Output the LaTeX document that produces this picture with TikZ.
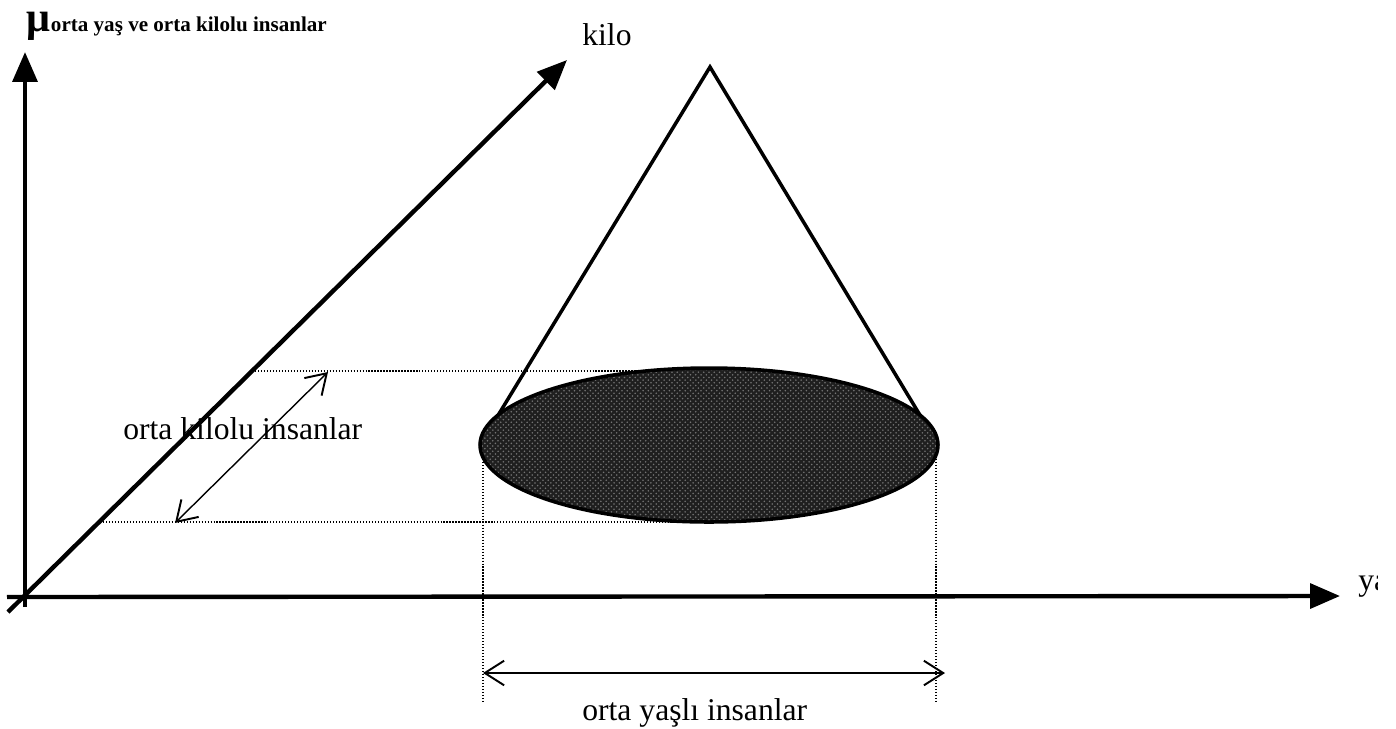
\documentclass[tikz,border=0pt]{standalone}
\usepackage{fontspec}
\setmainfont{Liberation Serif}
\usetikzlibrary{arrows.meta,positioning,patterns}

\tikzset{
  axis/.style={line width=2.5pt,-{Triangle[length=17pt,width=14pt]}},
  coneline/.style={line width=2pt},
  guide/.style={densely dotted,line width=0.7pt},
  span/.style={line width=0.8pt,{Straight Barb[length=11pt,width=14pt,line width=1.1pt]}-{Straight Barb[length=11pt,width=14pt,line width=1.1pt]}},
  lbl/.style={font=\fontsize{18}{20}\selectfont,inner sep=0pt,anchor=base west},
}

\begin{document}
\begin{tikzpicture}[x=0.02cm,y=-0.02cm]
			\useasboundingbox (0,0) rectangle (1396,728);

			% ---------------- Axes ----------------
			\coordinate (Ystart) at (25,607);
			\coordinate (Ytip) at (25,52);
			\coordinate (Xstart) at (7,597);
			\coordinate (Xtip) at (1340,596);
			\coordinate (Zstart) at (8,612);
			\coordinate (Ztip) at (567,60);

			\draw[axis] (Ystart) -- (Ytip);
			\draw[axis] (Xstart) -- (Xtip);
			\draw[axis] (Zstart) -- (Ztip);

			% Axis labels
			\node[font=\bfseries\fontsize{24}{24}\selectfont,inner sep=0pt,text height=12pt,text depth=5pt,anchor=base west] (mu) at (26,31) {μ};
			\node[font=\bfseries\fontsize{12}{14}\selectfont,inner sep=0pt,anchor=base west] (mulbl) at (mu.base east) {orta yaş ve orta kilolu insanlar};
			\node[lbl] (kilo) at (582,45) {kilo};
			\begin{scope}
				\clip (0,0) rectangle (1377,728);
				\node[lbl] (yas) at (1358,590) {yaş};
			\end{scope}

			% ---------------- Cone ----------------
			\coordinate (apex) at (710,67);
			\coordinate (eL) at (480,445);
			\coordinate (eR) at (938,445);
			\draw[coneline] (eL) -- (apex) -- (eR);

			% Projection lines
			\coordinate (kTop) at (252,371);
			\coordinate (kBot) at (100,522);
			\coordinate (eTop) at (709,371);
			\coordinate (eBot) at (709,522);
			\draw[guide] (kTop) -- (eTop);
			\draw[guide] (kBot) -- (eBot);
			\coordinate (gL) at (483,447);
			\coordinate (gLb) at (483,702);
			\coordinate (gR) at (936,447);
			\coordinate (gRb) at (936,702);
			\draw[guide] (gL) -- (gLb);
			\draw[guide] (gR) -- (gRb);

			% Base of the cone (shaded)
			\fill[black!88] (709,445) ellipse [x radius=229,y radius=77];
			\fill[pattern=crosshatch dots,pattern color=black!55] (709,445) ellipse [x radius=229,y radius=77];
			\draw[line width=2pt] (709,445) ellipse [x radius=229,y radius=77];

			% ---------------- Ranges ----------------
			\coordinate (kA) at (328,372);
			\coordinate (kB) at (175,523);
			\draw[span] (kB) -- (kA);
			\node[lbl] (kilolbl) at (123,439) {orta kilolu insanlar};

			\coordinate (yA) at (483,673);
			\coordinate (yB) at (945,673);
			\draw[span] (yA) -- (yB);
			\node[lbl] (yaslbl) at (582,720) {orta yaşlı insanlar};
		\end{tikzpicture}
\end{document}
